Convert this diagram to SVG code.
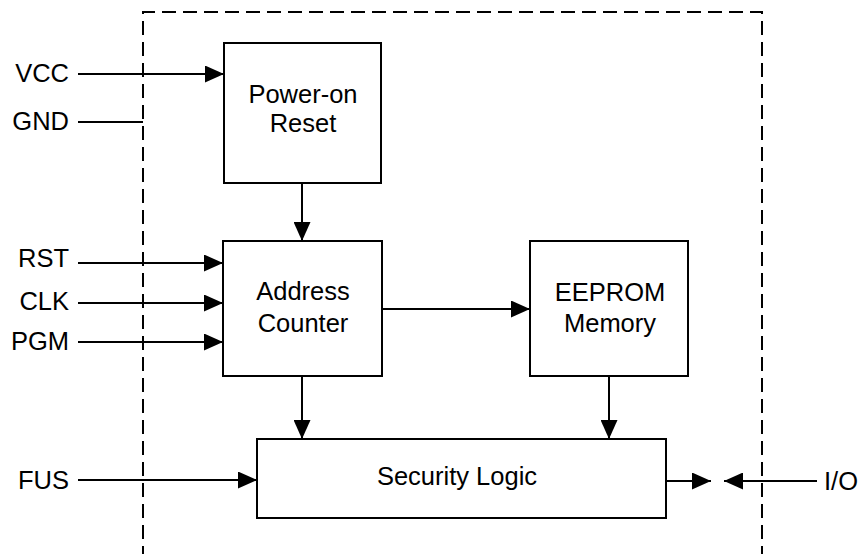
<svg xmlns="http://www.w3.org/2000/svg" width="860" height="554" viewBox="0 0 860 554">
<style>
text{font-family:"Liberation Sans",Arial,Helvetica,sans-serif;font-size:25.5px;fill:#000}
.box{fill:#fff;stroke:#000;stroke-width:2}
.ln{fill:none;stroke:#000;stroke-width:2}
.dash{fill:none;stroke:#000;stroke-width:2;stroke-dasharray:14 7}
.lbl{text-anchor:end}
.c{text-anchor:middle}
</style>
<defs>
<marker id="ah" markerUnits="userSpaceOnUse" markerWidth="19" markerHeight="17" refX="19" refY="8.5" orient="auto">
<path d="M0,0 L19,8.5 L0,17 z" fill="#000"/>
</marker>
</defs>
<rect x="0" y="0" width="860" height="554" fill="#fff"/>
<path class="dash" d="M143,560 L143,12 L762,12 L762,560"/>
<g id="connectors">
<line class="ln" x1="78" y1="74" x2="224" y2="74" marker-end="url(#ah)"/>
<line class="ln" x1="78" y1="122" x2="143" y2="122"/>
<line class="ln" x1="78" y1="263" x2="223" y2="263" marker-end="url(#ah)"/>
<line class="ln" x1="78" y1="303" x2="223" y2="303" marker-end="url(#ah)"/>
<line class="ln" x1="78" y1="342" x2="223" y2="342" marker-end="url(#ah)"/>
<line class="ln" x1="302" y1="183" x2="302" y2="241" marker-end="url(#ah)"/>
<line class="ln" x1="382" y1="309" x2="530" y2="309" marker-end="url(#ah)"/>
<line class="ln" x1="302" y1="376" x2="302" y2="439" marker-end="url(#ah)"/>
<line class="ln" x1="609" y1="376" x2="609" y2="439" marker-end="url(#ah)"/>
<line class="ln" x1="78" y1="480" x2="257" y2="480" marker-end="url(#ah)"/>
<line class="ln" x1="666" y1="481" x2="711" y2="481" marker-end="url(#ah)"/>
<line class="ln" x1="817" y1="481" x2="724" y2="481" marker-end="url(#ah)"/>
</g>
<g id="vcc"><text class="lbl" x="69" y="82">VCC</text></g>
<g id="gnd"><text class="lbl" x="69" y="130">GND</text></g>
<g id="rst"><text class="lbl" x="69" y="267">RST</text></g>
<g id="clk"><text class="lbl" x="69" y="310">CLK</text></g>
<g id="pgm"><text class="lbl" x="69" y="350">PGM</text></g>
<g id="fus"><text class="lbl" x="69" y="489">FUS</text></g>
<g id="io"><text x="824" y="490">I/O</text></g>
<g id="power-on-reset">
<rect class="box" x="224" y="43" width="157" height="140"/>
<text class="c" x="303" y="103">Power-on</text>
<text class="c" x="303" y="132">Reset</text>
</g>
<g id="address-counter">
<rect class="box" x="223" y="241" width="159" height="135"/>
<text class="c" x="303" y="300">Address</text>
<text class="c" x="303" y="332">Counter</text>
</g>
<g id="eeprom-memory">
<rect class="box" x="530" y="241" width="158" height="135"/>
<text class="c" x="610" y="301">EEPROM</text>
<text class="c" x="610" y="332">Memory</text>
</g>
<g id="security-logic">
<rect class="box" x="257" y="439" width="409" height="79"/>
<text class="c" x="457" y="485">Security Logic</text>
</g>
</svg>
